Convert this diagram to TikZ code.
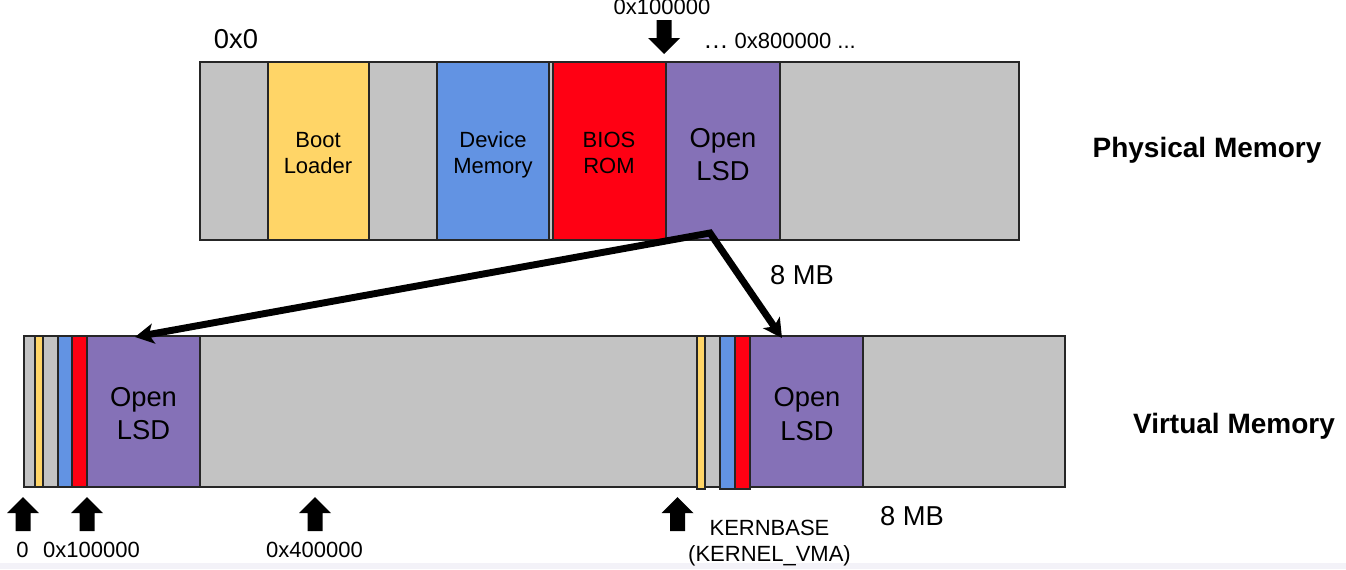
\documentclass[tikz,border=0pt]{standalone}
\usepackage{fontspec}
\setmainfont{Liberation Sans}
\usetikzlibrary{arrows.meta}

\definecolor{memgray}{RGB}{195,195,195}
\definecolor{bootcolor}{RGB}{255,213,103}
\definecolor{devcolor}{RGB}{98,147,227}
\definecolor{bioscolor}{RGB}{255,0,19}
\definecolor{lsdcolor}{RGB}{133,113,183}
\definecolor{stripcolor}{RGB}{243,242,248}

\tikzset{
  seg/.style={draw=black!85, line width=1.1pt},
  small/.style={font=\fontsize{16.5}{20}\selectfont, inner sep=0pt, anchor=base},
  large/.style={font=\fontsize{20.5}{25}\selectfont, inner sep=0pt, anchor=base},
  title/.style={font=\bfseries\fontsize{21}{25}\selectfont, inner sep=0pt, anchor=base},
  maparrow/.style={line width=5.2pt, line join=miter,
    {Stealth[length=14pt,width=15pt,inset=3.5pt]}-{Stealth[length=14pt,width=15pt,inset=3.5pt]}},
  blockarrow/.pic={\fill (0,0) -- (16,16) -- (7.5,16) -- (7.5,34) -- (-7.5,34) -- (-7.5,16) -- (-16,16) -- cycle;}
}

\begin{document}
\begin{tikzpicture}[x=0.75pt, y=-0.75pt]
        \useasboundingbox (0,0) rectangle (1346,569);
        \fill[stripcolor] (0,563) rectangle (1346,569);

        % Physical Memory
        \filldraw[seg, fill=memgray] (200,62) rectangle (1019,240);
        \filldraw[seg, fill=bootcolor] (268,62) rectangle (369,240);
        \filldraw[seg, fill=devcolor] (437,62) rectangle (549,240);
        \filldraw[seg, fill=bioscolor] (553,62) rectangle (666,240);
        \filldraw[seg, fill=lsdcolor] (666,62) rectangle (780,240);

        \node[small] (bootA) at (318,147) {Boot};
        \node[small] (bootB) at (318,173) {Loader};
        \node[small] (devA) at (493,147) {Device};
        \node[small] (devB) at (493,173) {Memory};
        \node[small] (biosA) at (609,147) {BIOS};
        \node[small] (biosB) at (609,173) {ROM};
        \node[large] (plsdA) at (723,147) {Open};
        \node[large] (plsdB) at (723,180) {LSD};

        % Adressen oben
        \node[large] (pzero) at (236,48) {0x0};
        \node[small] (pkern) at (662,14) {0x100000};
        \node[small, anchor=base west] (pend) at (703,48) {{\fontsize{19}{20}\selectfont …} 0x800000 ...};
        \pic[yscale=-1] at (664,54) {blockarrow};

        \node[title] (physlabel) at (1207,157) {Physical Memory};

        % Virtual Memory
        \filldraw[seg, fill=memgray] (24,336) rectangle (1065,487);
        \filldraw[seg, fill=bootcolor] (35,336) rectangle (43,487);
        \filldraw[seg, fill=devcolor] (58,336) rectangle (72,487);
        \filldraw[seg, fill=bioscolor] (72,336) rectangle (87,487);
        \filldraw[seg, fill=lsdcolor] (87,336) rectangle (200,487);
        \filldraw[seg, fill=bootcolor] (697,336) rectangle (705,489);
        \filldraw[seg, fill=devcolor] (720,336) rectangle (735,489);
        \filldraw[seg, fill=bioscolor] (735,336) rectangle (750,489);
        \filldraw[seg, fill=lsdcolor] (750,336) rectangle (863,487);

        \node[large] (vlsdA) at (143.5,406) {Open};
        \node[large] (vlsdB) at (143.5,439) {LSD};
        \node[large] (klsdA) at (807,406) {Open};
        \node[large] (klsdB) at (807,440) {LSD};

        \node[title] (virtlabel) at (1234,433) {Virtual Memory};

        % Abbildung
        \coordinate (src) at (710,233);
        \coordinate (lowtip) at (135,337);
        \coordinate (hightip) at (782,338);
        \draw[maparrow] (lowtip) -- (src) -- (hightip);
        \node[large] (physsize) at (802,284) {8 MB};

        % Adressen unten
        \pic at (23,497) {blockarrow};
        \pic at (87,497) {blockarrow};
        \pic at (315,497) {blockarrow};
        \pic at (677.5,497) {blockarrow};
        \node[small] (vzero) at (22.5,557) {0};
        \node[small] (vphys) at (91.5,557) {0x100000};
        \node[small] (vmid) at (314.5,557) {0x400000};
        \node[small] (kbase) at (769.5,535) {KERNBASE};
        \node[small] (kvma) at (769.5,561) {(KERNEL\_VMA)};
        \node[large] (virtsize) at (912,525) {8 MB};
\end{tikzpicture}
\end{document}
